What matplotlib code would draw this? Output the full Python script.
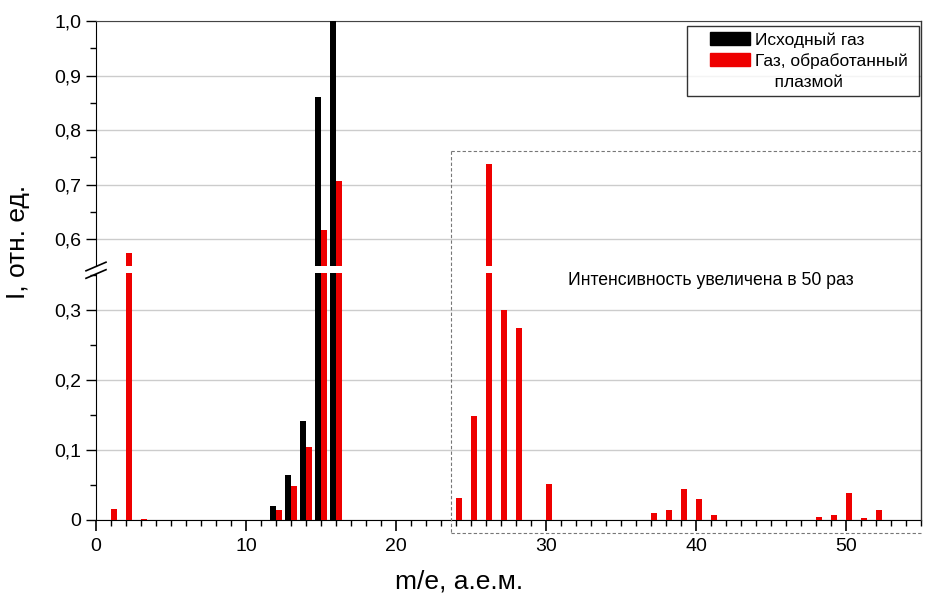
import matplotlib
matplotlib.use("Agg")
import matplotlib.pyplot as plt
from matplotlib.ticker import MultipleLocator, FuncFormatter
from matplotlib.lines import Line2D
from matplotlib.patches import Patch, Rectangle
from matplotlib.legend_handler import HandlerPatch

plt.rcParams['font.family'] = ['Liberation Sans', 'DejaVu Sans']

# исходный газ
mass_src = [12, 13, 14, 15, 16]
int_src = [0.020, 0.065, 0.142, 0.860, 1.000]

# газ, обработанный плазмой (от 24 а.е.м. интенсивность x50)
mass_pl = [1, 2, 3, 12, 13, 14, 15, 16,
           24, 25, 26, 27, 28, 30, 37, 38, 39, 40, 41, 48, 49, 50, 51, 52]
int_pl = [0.016, 0.575, 0.002, 0.015, 0.048, 0.104, 0.616, 0.706,
          0.031, 0.148, 0.737, 0.300, 0.274, 0.052, 0.010, 0.015, 0.045,
          0.030, 0.007, 0.004, 0.007, 0.039, 0.003, 0.015]

labels = ["Исходный газ", "Газ, обработанный ", "    плазмой"]

W, H = 925, 594


def fy(y):
    return 1 - y / H


fig = plt.figure(figsize=(W / 100, H / 100), dpi=100)
left, right = 96, 921
ax_top = fig.add_axes([left / W, fy(266), (right - left) / W, (266 - 21) / H])
ax_bot = fig.add_axes([left / W, fy(520), (right - left) / W, (520 - 273) / H])


def fmt(v, pos):
    if abs(v) < 1e-9:
        return "0"
    return f"{v:.1f}".replace(".", ",")


for ax in (ax_top, ax_bot):
    ax.bar([m - 0.2 for m in mass_src], int_src, width=0.42, color="black", zorder=3)
    ax.bar([m + 0.2 for m in mass_pl], int_pl, width=0.42, color="#ee0000", zorder=3)
    ax.set_xlim(0, 55)
    ax.yaxis.grid(True, color="#cccccc", lw=1)
    ax.set_axisbelow(True)
    ax.spines["right"].set_visible(False)
    ax.yaxis.set_major_locator(MultipleLocator(0.1))
    ax.yaxis.set_minor_locator(MultipleLocator(0.05))
    ax.yaxis.set_major_formatter(FuncFormatter(fmt))
    ax.tick_params(axis="y", which="major", direction="out", length=7, width=1, labelsize=14)
    ax.tick_params(axis="y", which="minor", direction="out", length=4, width=1)

ax_top.set_ylim(0.5505, 1.0)
ax_bot.set_ylim(0, 0.353)

ax_top.spines["bottom"].set_visible(False)
ax_top.spines["top"].set_color("#444444")
ax_top.tick_params(axis="x", which="both", bottom=False, labelbottom=False)

ax_bot.spines["top"].set_visible(False)
ax_bot.xaxis.set_major_locator(MultipleLocator(10))
ax_bot.xaxis.set_minor_locator(MultipleLocator(1))
ax_bot.tick_params(axis="x", which="major", direction="out", length=8, width=1.2, labelsize=14, pad=5)
ax_bot.tick_params(axis="x", which="minor", direction="out", length=4, width=1)

# правая рамка
fig.add_artist(Line2D([right / W, right / W], [fy(21), fy(520)], color="#333333", lw=1))

# разрыв оси
for yc in (266.5, 274):
    fig.add_artist(Line2D([(left - 10) / W, (left + 10) / W],
                          [fy(yc + 4.3), fy(yc - 4.3)], color="black", lw=1.2))

# область x50
x0 = 451
dash = dict(color="#777777", lw=0.8, linestyle=(0, (3, 2)))
fig.add_artist(Line2D([x0 / W, right / W], [fy(151), fy(151)], **dash))
fig.add_artist(Line2D([x0 / W, x0 / W], [fy(151), fy(533)], **dash))
fig.add_artist(Line2D([x0 / W, right / W], [fy(533), fy(533)], **dash))

fig.text(711 / W, fy(280), "Интенсивность увеличена в 50 раз",
         ha="center", va="center", fontsize=12.7)


def shifted_patch(legend, orig_handle, xdescent, ydescent, width, height, fontsize):
    return Rectangle((-xdescent + width * 0.3, -ydescent), width * 0.7, height)


handles = [Patch(color="black"), Patch(color="#ee0000"), Patch(color="none")]
leg = fig.legend(handles, labels, loc="upper right",
                 bbox_to_anchor=(919 / W, fy(26)), fontsize=12.5,
                 frameon=True, fancybox=False, edgecolor="black",
                 handlelength=3.3, handleheight=0.8, labelspacing=0.3,
                 borderpad=0.35, handletextpad=0.3, borderaxespad=0,
                 handler_map={Patch: HandlerPatch(patch_func=shifted_patch)})
leg.get_frame().set_linewidth(1)

fig.text(18 / W, fy(242), "I, отн. ед.", rotation=90, ha="center", va="center", fontsize=19)
fig.text(459 / W, fy(581), "m/e, а.е.м.", ha="center", va="center", fontsize=19)

fig.savefig("out.png", dpi=100)
